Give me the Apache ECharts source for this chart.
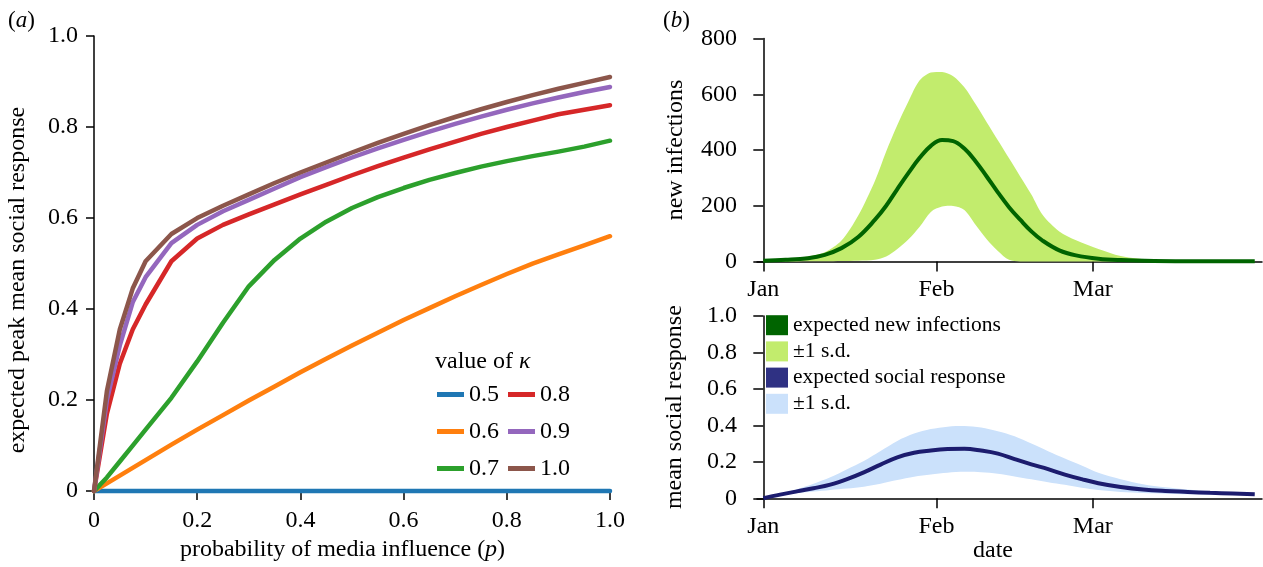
<!DOCTYPE html>
<html><head><meta charset="utf-8">
<script src="https://cdn.jsdelivr.net/npm/echarts@6/dist/echarts.min.js"></script>
<style>html,body{margin:0;padding:0;background:#fff}#c{width:1263px;height:567px}</style>
</head><body><div id="c"></div>
<script>
const FONT = "'Liberation Serif', 'Times New Roman', serif";

// ---- panel (a) data ----
const pVals = [0, 0.025, 0.05, 0.075, 0.1, 0.15, 0.2, 0.25, 0.3, 0.35, 0.4, 0.45, 0.5, 0.55, 0.6, 0.65, 0.7, 0.75, 0.8, 0.85, 0.9, 0.95, 1.0];
const kappaNames = ['0.5', '0.6', '0.7', '0.8', '0.9', '1.0'];
const k05 = [0, 0, 0, 0, 0, 0, 0, 0, 0, 0, 0, 0, 0, 0, 0, 0, 0, 0, 0, 0, 0, 0, 0];
const k06 = [0, 0.017, 0.034, 0.051, 0.068, 0.102, 0.135, 0.167, 0.199, 0.23, 0.261, 0.291, 0.32, 0.348, 0.376, 0.402, 0.428, 0.453, 0.477, 0.5, 0.52, 0.54, 0.56];
const k07 = [0, 0.03, 0.065, 0.1, 0.135, 0.205, 0.285, 0.37, 0.45, 0.508, 0.555, 0.592, 0.622, 0.646, 0.666, 0.684, 0.699, 0.713, 0.725, 0.736, 0.746, 0.757, 0.77];
const k08 = [0, 0.17, 0.28, 0.355, 0.41, 0.505, 0.555, 0.585, 0.608, 0.63, 0.652, 0.673, 0.694, 0.714, 0.733, 0.751, 0.768, 0.785, 0.80, 0.814, 0.828, 0.838, 0.848];
const k09 = [0, 0.2, 0.32, 0.415, 0.47, 0.545, 0.585, 0.615, 0.64, 0.665, 0.69, 0.712, 0.733, 0.753, 0.772, 0.79, 0.807, 0.823, 0.838, 0.852, 0.865, 0.877, 0.888];
const k10 = [0, 0.22, 0.355, 0.445, 0.505, 0.565, 0.60, 0.627, 0.652, 0.677, 0.70, 0.722, 0.744, 0.765, 0.785, 0.804, 0.822, 0.839, 0.855, 0.870, 0.884, 0.897, 0.91];
const kappaSeries = [k05, k06, k07, k08, k09, k10];
const kappaColors = ['#1f77b4', '#ff7f0e', '#2ca02c', '#d62728', '#9467bd', '#8c564b'];

// ---- panel (b) data (day 0 = 1 Jan) ----
const monthTicks = [0, 31, 59];
const monthLabels = ['Jan', 'Feb', 'Mar'];
const infDays  = [0, 4, 8, 11, 14, 17, 20, 22, 24, 26, 28, 30, 32, 34, 36, 38, 40, 42, 44, 46, 48, 50, 53, 56, 60, 64, 70, 78, 88];
const infMean  = [3, 6, 12, 24, 48, 88, 150, 200, 260, 318, 372, 415, 436, 432, 405, 360, 305, 248, 195, 150, 108, 75, 40, 22, 10, 5, 2, 1, 1];
const infUpper = [3, 8, 18, 33, 75, 165, 290, 395, 490, 575, 650, 678, 680, 665, 625, 565, 500, 435, 370, 305, 240, 168, 108, 76, 45, 20, 5, 2, 1];
const infLower = [0, 0, 1, 1, 2, 3, 6, 18, 45, 80, 125, 178, 197, 199, 185, 132, 80, 38, 6, 0, 0, 0, 0, 0, 0, 0, 0, 0, 0];

const socDays  = [0, 3, 6, 9, 12, 15, 18, 21, 24, 27, 30, 33, 36, 39, 42, 45, 48, 51, 54, 57, 60, 64, 68, 72, 76, 80, 84, 88];
const socMean  = [0, 0.02, 0.038, 0.055, 0.075, 0.105, 0.142, 0.185, 0.225, 0.25, 0.262, 0.27, 0.272, 0.262, 0.245, 0.215, 0.186, 0.16, 0.13, 0.105, 0.083, 0.062, 0.048, 0.04, 0.035, 0.03, 0.026, 0.022];
const socUpper = [0, 0.025, 0.05, 0.08, 0.115, 0.16, 0.205, 0.26, 0.315, 0.355, 0.38, 0.393, 0.396, 0.388, 0.368, 0.34, 0.30, 0.258, 0.218, 0.18, 0.14, 0.105, 0.077, 0.06, 0.048, 0.038, 0.031, 0.026];
const socLower = [0, 0.015, 0.028, 0.037, 0.046, 0.054, 0.064, 0.08, 0.1, 0.118, 0.13, 0.14, 0.145, 0.143, 0.135, 0.12, 0.104, 0.088, 0.074, 0.058, 0.046, 0.035, 0.029, 0.025, 0.022, 0.02, 0.019, 0.018];

const GREEN_DARK = '#006400', GREEN_LIGHT = '#c2ec6d', NAVY = '#1c1c6e', NAVY_LEG = '#2f3183', BLUE_LIGHT = '#cbe1fb';

const chart = echarts.init(document.getElementById('c'), null, {renderer: 'canvas'});

const tickFont = {fontFamily: FONT, fontSize: 24, color: '#000', fontWeight: 'normal'};
const nameFont = {fontFamily: FONT, fontSize: 24, color: '#000', fontWeight: 'normal'};
const axLine = {show: true, lineStyle: {color: '#000', width: 1.5}};
const fmt1 = v => (v === 0 ? '0' : v.toFixed(1));

function monthXAxis(gridIndex, extra) {
  return Object.assign({
    type: 'value', gridIndex, min: -1.13, max: 89.3,
    axisLine: axLine,
    axisTick: {show: true, length: 10, lineStyle: {color: '#000', width: 1.5}, customValues: monthTicks},
    axisLabel: Object.assign({margin: 16, customValues: monthTicks,
      formatter: v => monthLabels[monthTicks.indexOf(Math.round(v))] || ''}, tickFont),
    splitLine: {show: false}
  }, extra || {});
}

function bandRender(days, upper, lower, color) {
  return function (params, api) {
    if (params.dataIndex !== 0) return null;
    const pts = [];
    for (let i = 0; i < days.length; i++) pts.push(api.coord([days[i], upper[i]]));
    for (let i = days.length - 1; i >= 0; i--) pts.push(api.coord([days[i], lower[i]]));
    return {type: 'polygon', shape: {points: pts, smooth: 0.3,
      smoothConstraint: [[Infinity, Infinity], [-Infinity, -Infinity]]}, style: {fill: color}};
  };
}

const series = [];
kappaNames.forEach((n, i) => {
  series.push({
    type: 'line', name: n, xAxisIndex: 0, yAxisIndex: 0,
    data: pVals.map((p, j) => [p, kappaSeries[i][j]]),
    symbol: 'none', clip: false,
    color: kappaColors[i],
    lineStyle: {width: 4.5, color: kappaColors[i], join: 'round', cap: 'round'},
    z: 3 + i
  });
});

series.push({type: 'custom', name: 'sd1', xAxisIndex: 1, yAxisIndex: 1,
  data: infDays.map((d, i) => [d, infUpper[i], infLower[i]]),
  encode: {x: 0, y: [1, 2]}, color: GREEN_LIGHT, silent: true, z: 2,
  renderItem: bandRender(infDays, infUpper, infLower, GREEN_LIGHT)});
series.push({type: 'line', name: 'expected new infections', xAxisIndex: 1, yAxisIndex: 1,
  data: infDays.map((d, i) => [d, infMean[i]]), symbol: 'none', smooth: 0.4, clip: false,
  color: GREEN_DARK, lineStyle: {width: 4, color: GREEN_DARK}, z: 4});

series.push({type: 'custom', name: 'sd2', xAxisIndex: 2, yAxisIndex: 2,
  data: socDays.map((d, i) => [d, socUpper[i], socLower[i]]),
  encode: {x: 0, y: [1, 2]}, color: BLUE_LIGHT, silent: true, z: 2,
  renderItem: bandRender(socDays, socUpper, socLower, BLUE_LIGHT)});
series.push({type: 'line', name: 'expected social response', xAxisIndex: 2, yAxisIndex: 2,
  data: socDays.map((d, i) => [d, socMean[i]]), symbol: 'none', smooth: 0.4, clip: false,
  color: NAVY, lineStyle: {width: 4, color: NAVY}, z: 4});

const legendA = (names, left) => ({
  orient: 'vertical', left, top: 382.5, padding: 0, itemGap: 13,
  itemWidth: 27, itemHeight: 5, icon: 'rect', selectedMode: false,
  textStyle: {fontFamily: FONT, fontSize: 24, color: '#000', lineHeight: 24},
  data: names.map(n => ({name: n, itemStyle: {color: kappaColors[kappaNames.indexOf(n)]}}))
});

const richLabel = (size) => ({
  p: {fontFamily: FONT, fontSize: size, color: '#000', fontWeight: 'normal'},
  i: {fontFamily: FONT, fontSize: size, fontStyle: 'italic', color: '#000', fontWeight: 'normal'}
});

const option = {
  backgroundColor: '#fff',
  animation: false,
  title: [
    {text: '{p|(}{i|a}{p|)}', left: 8, top: 9.5, padding: 0,
      textStyle: {fontWeight: 'normal', rich: richLabel(23)}},
    {text: '{p|(}{i|b}{p|)}', left: 663, top: 9.5, padding: 0,
      textStyle: {fontWeight: 'normal', rich: richLabel(23)}},
    {text: '{p|value of }{i|κ}', left: 435, top: 350, padding: 0,
      textStyle: {fontWeight: 'normal', rich: richLabel(24)}}
  ],
  legend: [
    legendA(['0.5', '0.6', '0.7'], 437),
    legendA(['0.8', '0.9', '1.0'], 508),
    {
      orient: 'vertical', left: 766, top: 314.2, padding: 0, itemGap: 4.2,
      itemWidth: 22, itemHeight: 20, icon: 'rect', selectedMode: false,
      textStyle: {fontFamily: FONT, fontSize: 21.5, color: '#000', lineHeight: 20},
      formatter: n => (n.indexOf('sd') === 0 ? '±1 s.d.' : n),
      data: [
        {name: 'expected new infections', itemStyle: {color: GREEN_DARK}},
        {name: 'sd1', itemStyle: {color: GREEN_LIGHT}},
        {name: 'expected social response', itemStyle: {color: NAVY_LEG}},
        {name: 'sd2', itemStyle: {color: BLUE_LIGHT}}
      ]
    }
  ],
  grid: [
    {left: 94, top: 36, width: 516, height: 462.3},
    {left: 757, top: 38.5, width: 505, height: 223},
    {left: 757, top: 316, width: 505, height: 182.3}
  ],
  xAxis: [
    {type: 'value', gridIndex: 0, min: 0, max: 1, interval: 0.2,
      name: '{p|probability of media influence (}{i|p}{p|)}', nameLocation: 'middle', nameGap: 44,
      nameTextStyle: {padding: [0, 19, 0, 0], rich: richLabel(24)},
      axisLine: axLine,
      axisTick: {show: true, length: 9, lineStyle: {color: '#000', width: 1.5}},
      axisLabel: Object.assign({margin: 18, formatter: fmt1}, tickFont),
      splitLine: {show: false}},
    monthXAxis(1),
    monthXAxis(2, {name: 'date', nameLocation: 'middle', nameGap: 36,
      nameTextStyle: Object.assign({padding: [0, 33, 0, 0]}, nameFont)})
  ],
  yAxis: [
    {type: 'value', gridIndex: 0, min: 0, max: 1, interval: 0.2,
      name: 'expected peak mean social response', nameLocation: 'middle', nameGap: 64,
      nameTextStyle: Object.assign({padding: [0, 33, 0, 0]}, nameFont),
      axisLine: axLine,
      axisTick: {show: true, length: 8, lineStyle: {color: '#000', width: 1.5}},
      axisLabel: Object.assign({margin: 16, formatter: fmt1}, tickFont),
      splitLine: {show: false}},
    {type: 'value', gridIndex: 1, min: 0, max: 800, interval: 200,
      name: 'new infections', nameLocation: 'middle', nameGap: 69,
      nameTextStyle: nameFont,
      axisLine: axLine,
      axisTick: {show: true, length: 10, lineStyle: {color: '#000', width: 1.5}},
      axisLabel: Object.assign({margin: 20}, tickFont),
      splitLine: {show: false}},
    {type: 'value', gridIndex: 2, min: 0, max: 1, interval: 0.2,
      name: 'mean social response', nameLocation: 'middle', nameGap: 70,
      nameTextStyle: nameFont,
      axisLine: axLine,
      axisTick: {show: true, length: 10, lineStyle: {color: '#000', width: 1.5}},
      axisLabel: Object.assign({margin: 20, formatter: fmt1}, tickFont),
      splitLine: {show: false}}
  ],
  series
};
chart.setOption(option);
</script></body></html>
